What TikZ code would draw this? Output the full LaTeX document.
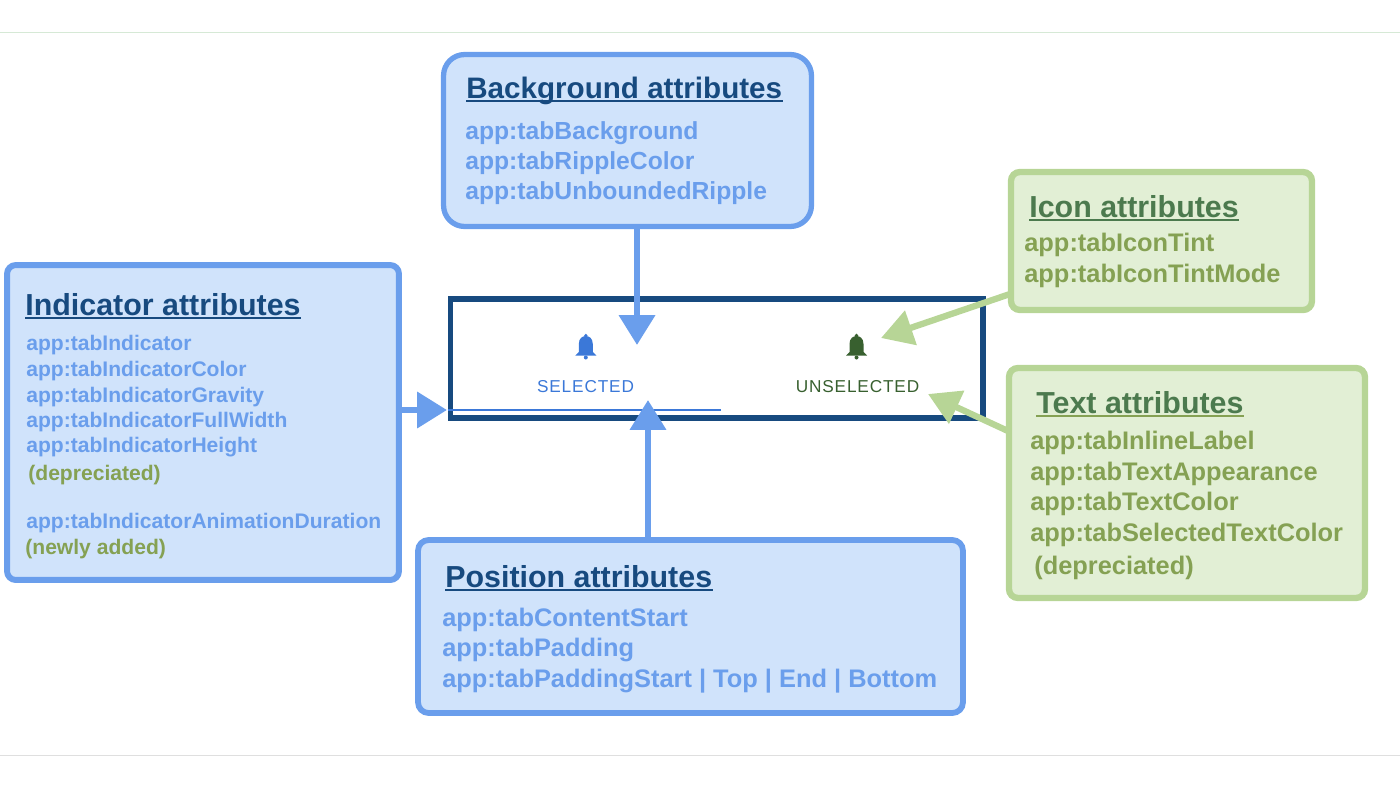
\documentclass[tikz,border=0pt]{standalone}
\usepackage{fontspec}
\usetikzlibrary{arrows.meta}
\setmainfont{Liberation Sans}
\newfontfamily\tabfont[LetterSpace=5]{Liberation Sans}
\definecolor{bluestroke}{HTML}{6A9EEC}
\definecolor{bluefill}{HTML}{D0E3FB}
\definecolor{bluetitle}{HTML}{174A7F}
\definecolor{greenstroke}{HTML}{B7D596}
\definecolor{greenfill}{HTML}{E2EFD5}
\definecolor{greentext}{HTML}{85A153}
\definecolor{greentitle}{HTML}{4C7A4E}
\definecolor{darkgreen}{HTML}{38602F}
\definecolor{tabblue}{HTML}{3B78D8}
\newcommand\titlerule[2]{\draw[#2,line width=1pt] ([yshift=-1.8pt]#1.base west) -- ([yshift=-1.8pt]#1.base east);}
\tikzset{
  bluebox/.style={draw=bluestroke,fill=bluefill,line width=3pt,rounded corners=6pt},
  greenbox/.style={draw=greenstroke,fill=greenfill,line width=3.6pt,rounded corners=5pt},
  title/.style={anchor=base west,inner sep=0pt,font=\bfseries\fontsize{17.3}{20}\selectfont},
  bigline/.style={anchor=base west,inner sep=0pt,font=\bfseries\fontsize{14.45}{17}\selectfont},
  smallline/.style={anchor=base west,inner sep=0pt,font=\bfseries\fontsize{12}{14}\selectfont},
  tablabel/.style={anchor=base,inner sep=0pt,font=\tabfont\fontsize{9.8}{11}\selectfont},
  bluearrow/.style={draw=bluestroke,line width=3.6pt,-{Triangle[width=20pt,length=17pt]}},
  greenarrow/.style={draw=greenstroke,line width=3.6pt,-{Triangle[width=20pt,length=18pt]}},
  bell/.pic={
    \fill (-7,6) -- (-7,-2) .. controls (-7,-8) and (-3,-10) .. (0,-10)
      .. controls (3,-10) and (7,-8) .. (7,-2) -- (7,6) -- (10.5,9.5) -- (-10.5,9.5) -- cycle;
    \fill (0,-10.5) circle [radius=1.8];
    \fill (0,11.5) circle [radius=2];
  }
}
\begin{document}
\begin{tikzpicture}[x=0.02cm,y=-0.02cm]
    \useasboundingbox (0,0) rectangle (1400,788);
    % Top and bottom rules
    \draw[green!30!gray!25,thin] (0,32) -- (1400,32);
    \draw[gray!25,thin] (0,755) -- (1400,755);

    % Tab strip
    \node[draw=bluetitle,line width=2.9pt,minimum width=10.66cm,minimum height=2.38cm,inner sep=0pt] (tabframe) at (716.5,358.5) {};
    \draw[tabblue,line width=1.1pt] (tabframe.west |- 0,410) -- (721,410);
    \path (585.8,346) pic[tabblue] {bell};
    \path (856.5,346) pic[darkgreen] {bell};
    \node[tablabel,text=tabblue] (selected) at (585.5,392) {SELECTED};
    \node[tablabel,text=darkgreen] (unselected) at (857.5,392) {UNSELECTED};

    % Attribute boxes
    \node[bluebox,rounded corners=12pt,minimum width=7.36cm,minimum height=3.44cm] (bgbox) at (627.5,140.5) {};
    \node[greenbox,minimum width=6.02cm,minimum height=2.76cm] (iconbox) at (1161.5,241) {};
    \node[greenbox,minimum width=7.12cm,minimum height=4.6cm] (textbox) at (1187,483) {};
    \node[bluebox,rounded corners=5pt,line width=3.4pt,minimum width=7.84cm,minimum height=6.3cm] (indbox) at (203,422.5) {};
    \node[bluebox,line width=3.3pt,minimum width=10.9cm,minimum height=3.46cm] (posbox) at (690.5,626.5) {};

    % Arrow ends
    \coordinate (bgtip) at (637,345);
    \coordinate (indtip) at (447,410);
    \coordinate (postip) at (648,400);
    \coordinate (icontip) at (881,338);
    \coordinate (icontail) at (1010,294);
    \coordinate (texttip) at (928,394);
    \coordinate (texttail) at (1008,431);

    % Arrows
    \draw[bluearrow] (bgbox.south -| bgtip) -- (bgtip);
    \draw[bluearrow] (indbox.east |- indtip) -- (indtip);
    \draw[bluearrow] (posbox.north -| postip) -- (postip);
    \draw[greenarrow] (icontail) -- (icontip);
    \draw[greenarrow] (texttail) -- (texttip);

    % Background attributes
    \node[title,font=\bfseries\fontsize{16.85}{20}\selectfont,text=bluetitle] (bgtitle) at (466,98) {Background attributes};
    \titlerule{bgtitle}{bluetitle}
    \foreach \ypos/\lbl [count=\i] in {139/app:tabBackground,169/app:tabRippleColor,199/app:tabUnboundedRipple}
    \node[bigline,font=\bfseries\fontsize{14.05}{17}\selectfont,text=bluestroke] (bgline\i) at (465,\ypos) {\lbl};

    % Icon attributes
    \node[title,text=greentitle] (icontitle) at (1029,217) {Icon attributes};
    \titlerule{icontitle}{greentitle}
    \foreach \ypos/\lbl [count=\i] in {251/app:tabIconTint,282/app:tabIconTintMode}
    \node[bigline,text=greentext] (iconline\i) at (1024,\ypos) {\lbl};

    % Text attributes
    \node[title,text=greentitle] (texttitle) at (1036,413) {Text attributes};
    \titlerule{texttitle}{greentext}
    \foreach \ypos/\lbl [count=\i] in {449/app:tabInlineLabel,480/app:tabTextAppearance,510/app:tabTextColor,541/app:tabSelectedTextColor}
    \node[bigline,text=greentext] (textline\i) at (1030,\ypos) {\lbl};
    \node[bigline,text=greentext] (textnote) at (1034,574) {(depreciated)};

    % Indicator attributes
    \node[title,text=bluetitle] (indtitle) at (25,315) {Indicator attributes};
    \titlerule{indtitle}{bluetitle}
    \foreach \ypos/\lbl [count=\i] in {350/app:tabIndicator,376/app:tabIndicatorColor,402/app:tabIndicatorGravity,427/app:tabIndicatorFullWidth,452/app:tabIndicatorHeight,528/app:tabIndicatorAnimationDuration}
    \node[smallline,text=bluestroke] (indline\i) at (26,\ypos) {\lbl};
    \node[smallline,text=greentext] (indnote) at (28,480) {(depreciated)};
    \node[smallline,text=greentext] (indnew) at (25,554) {(newly added)};

    % Position attributes
    \node[title,text=bluetitle] (postitle) at (445,587) {Position attributes};
    \titlerule{postitle}{bluetitle}
    \foreach \ypos/\lbl [count=\i] in {626/app:tabContentStart,656/app:tabPadding,687/app:tabPaddingStart | Top | End | Bottom}
    \node[bigline,text=bluestroke] (posline\i) at (442,\ypos) {\lbl};
\end{tikzpicture}
\end{document}
